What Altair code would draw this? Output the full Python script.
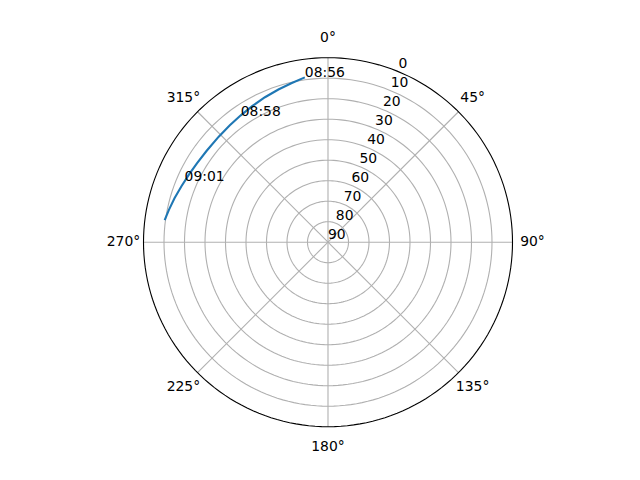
import altair as alt
import pandas as pd
import numpy as np

# ---- data ----
# satellite pass track (azimuth in degrees, elevation in degrees)
track_az = [352.0, 347.0, 342.0, 336.5, 331.0, 325.5, 320.0, 314.0, 307.0, 301.0, 296.0, 291.0, 286.0, 281.5, 277.7]
track_el = [8.8, 10.4, 11.7, 12.9, 14.0, 14.9, 15.5, 15.9, 15.9, 15.4, 14.6, 13.5, 12.1, 10.8, 9.6]

# time annotations placed on the track
label_time = ["08:56", "08:58", "09:01"]
label_az = [352.0, 325.3, 293.2]
label_el = [8.8, 15.2, 13.9]

# radial (elevation) ticks: 0 at the rim, 90 at the centre
radial_ticks = [0, 10, 20, 30, 40, 50, 60, 70, 80, 90]
grid_el = [10, 20, 30, 40, 50, 60, 70, 80]
rlabel_position = 22.5

# angular (azimuth) ticks
angle_ticks = [0, 45, 90, 135, 180, 225, 270, 315]
angle_labels = ["0°", "45°", "90°", "135°", "180°", "225°", "270°", "315°"]

# ---- layout ----
W, H = 624, 464
R = 184.5          # rim radius in px
CX, CY = 320, 234.2  # centre inside the view
xs = alt.Scale(domain=[-CX / R, (W - CX) / R], nice=False, zero=False)
ys = alt.Scale(domain=[-(H - CY) / R, CY / R], nice=False, zero=False)
X = alt.X("x:Q", scale=xs, axis=None)
Y = alt.Y("y:Q", scale=ys, axis=None)
FONT = "DejaVu Sans"
FS = 13.9

polar_x = "(90 - datum.el) / 90 * sin(datum.az * PI / 180)"
polar_y = "(90 - datum.el) / 90 * cos(datum.az * PI / 180)"

# grid circles
ring_angles = np.arange(0, 361, 2)
rings = pd.DataFrame([(e, a) for e in grid_el for a in ring_angles], columns=["el", "az"])
rim = pd.DataFrame({"el": [0] * len(ring_angles), "az": ring_angles})

ring_layer = alt.Chart(rings).transform_calculate(x=polar_x, y=polar_y).mark_line(
    color="#b0b0b0", strokeWidth=1.1
).encode(x=X, y=Y, detail="el:N", order="az:Q")

spokes = pd.DataFrame({"az": angle_ticks})
spoke_layer = alt.Chart(spokes).transform_calculate(
    x0="0", y0="0", x="sin(datum.az * PI / 180)", y="cos(datum.az * PI / 180)"
).mark_rule(color="#b0b0b0", strokeWidth=1.1).encode(
    x=alt.X("x0:Q", scale=xs, axis=None), y=alt.Y("y0:Q", scale=ys, axis=None),
    x2="x:Q", y2="y:Q"
)

rim_layer = alt.Chart(rim).transform_calculate(x=polar_x, y=polar_y).mark_line(
    color="black", strokeWidth=1.1
).encode(x=X, y=Y, order="az:Q")

track = pd.DataFrame({"az": track_az, "el": track_el, "i": range(len(track_az))})
track_layer = alt.Chart(track).transform_calculate(x=polar_x, y=polar_y).mark_line(
    color="#1f77b4", strokeWidth=2.1
).encode(x=X, y=Y, order="i:Q")

labels = pd.DataFrame({"az": label_az, "el": label_el, "t": label_time})
time_layer = alt.Chart(labels).transform_calculate(x=polar_x, y=polar_y).mark_text(
    align="left", baseline="alphabetic", font=FONT, fontSize=FS, color="black", dx=0
).encode(x=X, y=Y, text="t:N")

rt = pd.DataFrame({"el": radial_ticks, "az": [rlabel_position] * len(radial_ticks),
                   "t": [str(v) for v in radial_ticks]})
rtick_layer = alt.Chart(rt).transform_calculate(x=polar_x, y=polar_y).mark_text(
    align="left", baseline="alphabetic", font=FONT, fontSize=FS, color="black", dx=0, dy=-3.6
).encode(x=X, y=Y, text="t:N")

at = pd.DataFrame({"az": angle_ticks, "t": angle_labels})
atick_layer = alt.Chart(at).transform_calculate(
    x="1.1084 * sin(datum.az * PI / 180)", y="1.1084 * cos(datum.az * PI / 180)"
).mark_text(
    align="center", baseline="middle", font=FONT, fontSize=FS, color="black"
).encode(x=X, y=Y, text="t:N")

chart = alt.layer(
    ring_layer, spoke_layer, track_layer, rim_layer, time_layer, rtick_layer, atick_layer
).properties(width=W, height=H, autosize="none", padding=0).configure_view(stroke=None)

chart.save("out.html", embed_options={"renderer": "svg", "actions": False})
